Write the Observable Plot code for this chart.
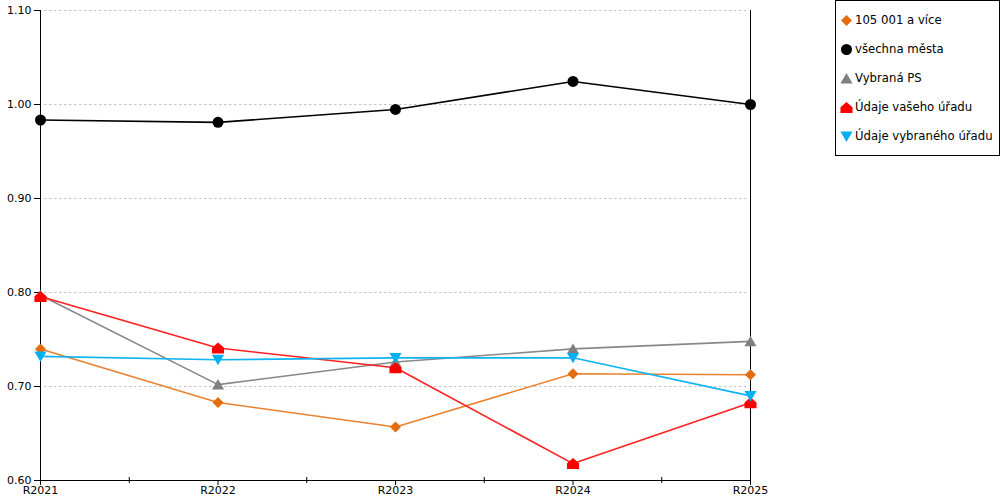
<!DOCTYPE html>
<html>
<head>
<meta charset="utf-8">
<script src="https://cdn.jsdelivr.net/npm/d3@7"></script>
<script src="https://cdn.jsdelivr.net/npm/@observablehq/plot@0.6"></script>
<style>
  html, body { margin: 0; padding: 0; background: #fff; }
  #wrap { position: relative; width: 1000px; height: 500px; font-family: "DejaVu Sans", Verdana, sans-serif; }
  #legend { position: absolute; left: 835px; top: 0px; width: 163px; height: 154px; border: 1px solid #000; background: #fff; box-sizing: content-box; }
  .item { position: absolute; left: 4px; height: 20px; display: flex; align-items: center; font-size: 11.7px; color: #000; white-space: nowrap; }
  .item svg { margin-right: 2px; }
</style>
</head>
<body>
<div id="wrap"><div id="chart"></div><div id="legend"></div></div>
<script>
const years = ["R2021", "R2022", "R2023", "R2024", "R2025"];
const seriesNames = ["105 001 a více", "všechna města", "Vybraná PS", "Údaje vašeho úřadu", "Údaje vybraného úřadu"];
const seriesColors = ["#E46C0A", "#000000", "#808080", "#FF0000", "#00B0F0"];
const lineColors = ["#E8822E", "#000000", "#888888", "#FF2020", "#10B4F0"];
const v105 = [0.740, 0.683, 0.657, 0.7135, 0.7125];
const vMesta = [0.9835, 0.981, 0.9947, 1.0245, 1.000];
const vPS = [0.797, 0.702, 0.726, 0.740, 0.748];
const vVas = [0.7957, 0.741, 0.720, 0.618, 0.6826];
const vVyb = [0.732, 0.7284, 0.7305, 0.7305, 0.690];
const yTicks = [0.6, 0.7, 0.8, 0.9, 1.0, 1.1];

const allValues = [v105, vMesta, vPS, vVas, vVyb];
const data = [];
allValues.forEach((vals, s) => vals.forEach((v, i) => data.push({series: seriesNames[s], si: s, i, value: v})));

// custom symbols
const symDiamond = {draw(ctx, size) { const r = Math.sqrt(size / Math.PI); ctx.moveTo(0, -r); ctx.lineTo(r, 0); ctx.lineTo(0, r); ctx.lineTo(-r, 0); ctx.closePath(); }};
const symCircle = {draw(ctx, size) { const r = Math.sqrt(size / Math.PI); ctx.moveTo(r, 0); ctx.arc(0, 0, r, 0, 2 * Math.PI); }};
const symTri = {draw(ctx, size) { const r = Math.sqrt(size / Math.PI); ctx.moveTo(0, -r); ctx.lineTo(r * 1.1, r * 0.9); ctx.lineTo(-r * 1.1, r * 0.9); ctx.closePath(); }};
const symHouse = {draw(ctx, size) { const r = Math.sqrt(size / Math.PI); ctx.moveTo(0, -r); ctx.lineTo(r * 1.1, -r * 0.05); ctx.lineTo(r * 1.1, r); ctx.lineTo(-r * 1.1, r); ctx.lineTo(-r * 1.1, -r * 0.05); ctx.closePath(); }};
const symTriDown = {draw(ctx, size) { const r = Math.sqrt(size / Math.PI); ctx.moveTo(0, r); ctx.lineTo(r * 1.1, -r * 0.9); ctx.lineTo(-r * 1.1, -r * 0.9); ctx.closePath(); }};
const symbols = [symDiamond, symCircle, symTri, symHouse, symTriDown];

const mids = [0.5, 1.5, 2.5, 3.5];

const chart = Plot.plot({
  width: 1000,
  height: 500,
  marginTop: 10,
  marginBottom: 20,
  marginLeft: 40,
  marginRight: 250,
  style: {fontFamily: "DejaVu Sans, Verdana, sans-serif", fontSize: "11px", color: "#000", background: "#fff"},
  x: {type: "linear", domain: [0, 4], axis: null, label: null},
  y: {domain: [0.6, 1.1], axis: null, label: null},
  marks: [
    Plot.gridY(yTicks.slice(1), {stroke: "#c4c4c4", strokeOpacity: 1, strokeDasharray: "2.5,2.5", inset: 4}),
    Plot.ruleX([4], {stroke: "#000", strokeWidth: 1}),
    Plot.ruleY([0.6], {stroke: "#000", strokeWidth: 1}),
    Plot.ruleX([0], {stroke: "#000", strokeWidth: 1}),
    Plot.axisY({ticks: yTicks, tickSize: 6, tickPadding: 3, tickFormat: d => d.toFixed(2), stroke: "#000", fill: "#000", label: null}),
    Plot.axisX({ticks: [0, 1, 2, 3, 4], tickSize: 5, tickPadding: 1, tickFormat: i => years[i], stroke: "#000", fill: "#000", label: null}),
    Plot.axisX({ticks: mids, tickSize: 6, tickFormat: () => "", dy: -3, stroke: "#000", label: null}),
    Plot.line(data, {x: "i", y: "value", z: "series", stroke: d => lineColors[d.si], strokeWidth: 1.6}),
    Plot.dot(data, {x: "i", y: "value", r: 5.5, fill: d => seriesColors[d.si], stroke: "none", symbol: d => symbols[d.si]})
  ]
});
document.getElementById("chart").appendChild(chart);

// legend
const legend = document.getElementById("legend");
seriesNames.forEach((name, s) => {
  const it = document.createElement("div");
  it.className = "item";
  it.style.top = (9 + 29 * s) + "px";
  const svg = d3.create("svg").attr("width", 13).attr("height", 13).attr("viewBox", "-6.5 -6.5 13 13");
  svg.append("path").attr("d", d3.symbol(symbols[s], Math.PI * 5.5 * 5.5)()).attr("fill", seriesColors[s]);
  it.appendChild(svg.node());
  const t = document.createElement("span");
  t.textContent = name;
  it.appendChild(t);
  legend.appendChild(it);
});
</script>
</body>
</html>
